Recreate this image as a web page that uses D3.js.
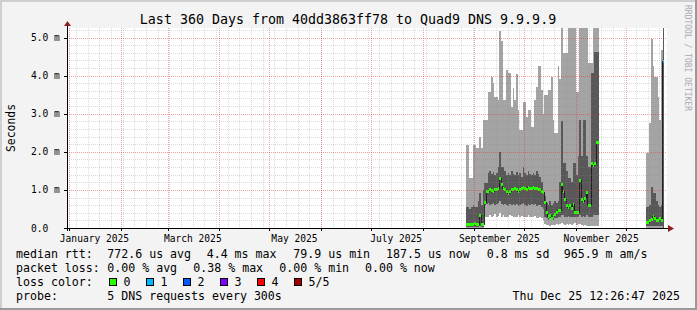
<!DOCTYPE html>
<html>
<head>
<meta charset="utf-8">
<script src="https://cdn.jsdelivr.net/npm/d3@7"></script>
<style>
  html, body { margin: 0; padding: 0; background: #f3f3f3; }
  svg { display: block; font-family: "DejaVu Sans Mono", monospace; }
</style>
</head>
<body>
<div id="chart"></div>
<script>
/**
 * CONSTANTS AND GLOBALS
 * */
const width = 697,
  height = 310,
  plot = { left: 67, right: 667, top: 28, bottom: 228 };

/**
 * DATA (all rtt values in ms)
 * */
const rangeStart = "2024-12-30T12:26:47Z";
const rangeEnd = "2025-12-25T12:26:47Z";
const yMax = 5.25;
const yTicks = [0, 1, 2, 3, 4, 5];
const yTickLabels = ["0.0", "1.0 m", "2.0 m", "3.0 m", "4.0 m", "5.0 m"];
const xLabelMonths = ["2025-01-01", "2025-03-01", "2025-05-01", "2025-07-01", "2025-09-01", "2025-11-01"];

// first block of daily values, starts Aug 27
const block1Start = "2025-08-27";
const max1 = [2.18, 2.18, 1.3, 1.3, 2.18, 2.18, 2.1, 2.1, 2.39, 2.1,
  2.84, 2.84, 2.84, 3.58, 3.58, 3.97, 3.8, 3.45, 3.45, 3.37,
  5.16, 4.9, 3.37, 3.37, 4.16, 4.08, 4.08, 3.18, 3.68, 3.37,
  4.03, 3.1, 2.58, 2.58, 3.3, 3.3, 2.92, 3.1, 3.1, 2.66,
  2.66, 3.37, 3.7, 4.24, 4.24, 3.63, 3.0, 3.5, 3.5, 3.63,
  3.63, 3.97, 2.84, 2.5, 2.5, 4.24, 3.9, 5.5, 4.6, 4.6,
  4.6, 5.5, 5.5, 5.5, 5.5, 5.5, 3.58, 3.58, 5.5, 5.5,
  5.5, 5.5, 5.5, 4.34, 4.34, 4.34, 5.5, 5.5, 5.5, 5.5];
const hi1 = [0.55, 0.55, 0.5, 0.55, 0.6, 0.55, 0.55, 0.7, 0.92, 0.6,
  1.0, 1.18, 1.18, 1.45, 1.5, 1.42, 1.48, 1.4, 1.45, 1.6,
  2.0, 1.6, 1.6, 1.5, 1.4, 1.45, 1.38, 1.5, 1.42, 1.4,
  1.48, 1.4, 1.45, 1.35, 1.6, 1.45, 1.4, 1.5, 1.42, 1.38,
  1.45, 1.4, 1.5, 1.42, 1.35, 1.2, 0.9, 0.85, 0.65, 0.6,
  0.7, 0.6, 0.65, 0.7, 0.65, 0.7, 1.2, 2.8, 1.7, 1.7,
  1.5, 1.3, 1.3, 1.2, 1.7, 1.7, 1.4, 1.9, 2.84, 1.9,
  2.84, 2.84, 1.9, 1.6, 1.6, 4.08, 4.08, 4.63, 4.63, 4.63];
const median1 = [0.1, 0.1, 0.08, 0.1, 0.1, 0.12, 0.1, 0.1, 0.32, 0.1,
  0.1, 0.68, 0.97, 0.96, 1.0, 0.98, 0.96, 1.0, 1.02, 1.04,
  1.31, 1.13, 1.04, 1.0, 0.96, 0.91, 0.96, 1.0, 1.02, 1.04,
  1.0, 0.96, 1.0, 1.04, 1.07, 1.04, 1.0, 1.07, 1.04, 1.04,
  1.07, 1.04, 1.04, 1.0, 1.0, 0.96, 0.92, 0.67, 0.4, 0.3,
  0.34, 0.25, 0.3, 0.35, 0.4, 0.47, 0.47, 1.13, 0.95, 0.75,
  0.6, 0.55, 0.6, 0.5, 0.62, 0.4, 0.42, 0.4, 1.26, 0.75,
  0.7, 0.78, 0.92, 0.58, 0.58, 1.7, 1.65, 1.7, 2.25, 2.25];
const lo1 = [0.03, 0.03, 0.03, 0.03, 0.03, 0.03, 0.03, 0.03, 0.05, 0.03,
  0.03, 0.6, 0.62, 0.65, 0.6, 0.62, 0.66, 0.6, 0.62, 0.65,
  0.7, 0.62, 0.6, 0.63, 0.6, 0.58, 0.62, 0.6, 0.64, 0.6,
  0.62, 0.58, 0.6, 0.62, 0.65, 0.6, 0.58, 0.62, 0.6, 0.63,
  0.6, 0.62, 0.58, 0.6, 0.6, 0.55, 0.5, 0.3, 0.25, 0.22,
  0.25, 0.2, 0.22, 0.25, 0.25, 0.28, 0.3, 0.35, 0.33, 0.3,
  0.3, 0.32, 0.3, 0.28, 0.3, 0.28, 0.3, 0.28, 0.35, 0.3,
  0.32, 0.3, 0.33, 0.3, 0.28, 0.3, 0.33, 0.35, 0.35, 0.33];
const min1 = [0, 0, 0, 0, 0, 0, 0, 0, 0, 0,
  0, 0.28, 0.3, 0.28, 0.35, 0.3, 0.32, 0.38, 0.3, 0.32,
  0.39, 0.3, 0.33, 0.3, 0.28, 0.3, 0.35, 0.32, 0.3, 0.28,
  0.3, 0.34, 0.3, 0.32, 0.3, 0.28, 0.3, 0.33, 0.3, 0.28,
  0.3, 0.32, 0.27, 0.25, 0.28, 0.25, 0.2, 0.1, 0.08, 0.08,
  0.06, 0.08, 0.07, 0.08, 0.1, 0.08, 0.1, 0.12, 0.1, 0.08,
  0.1, 0.08, 0.1, 0.08, 0.1, 0.12, 0.08, 0.1, 0.1, 0.08,
  0.06, 0.08, 0.05, 0.04, 0.05, 0.05, 0.06, 0.05, 0.05, 0.06];
const loss1 = new Array(80).fill(0);

// second block, starts Dec 13
const block2Start = "2025-12-13";
const max2 = [1.97, 1.97, 2.76, 4.95, 4.24, 3.97, 3.97, 3.45, 2.84, 4.68, 5.5];
const hi2 = [0.55, 0.55, 0.6, 1.08, 0.92, 0.92, 0.7, 0.6, 0.55, 0.6, 5.5];
const median2 = [0.15, 0.15, 0.2, 0.22, 0.3, 0.25, 0.2, 0.2, 0.25, 0.2, 4.37];
const lo2 = [0.05, 0.05, 0.05, 0.06, 0.06, 0.05, 0.05, 0.05, 0.05, 0.05, 0];
const min2 = [0, 0, 0, 0, 0, 0, 0, 0, 0, 0, 0];
const loss2 = [0, 0, 0, 0, 0, 0, 0, 0, 0, 0, 1];

// legend
const lossColors = ["#26ff00", "#00b8ff", "#0059ff", "#7e00ff", "#ff0000", "#a10000"];
const lossLabels = ["0", "1", "2", "3", "4", "5/5"];
const rttStats = ["772.6 us avg", "4.4 ms max", "79.9 us min", "187.5 us now", "0.8 ms sd", "965.9 m am/s"];
const lossStats = ["0.00 % avg", "0.38 % max", "0.00 % min", "0.00 % now"];
const titleText = "Last 360 Days from 40dd3863ff78 to Quad9 DNS 9.9.9.9";
const probeText = "5 DNS requests every 300s";
const stampText = "Thu Dec 25 12:26:47 2025";

/**
 * SCALES
 * */
const x = d3.scaleUtc()
  .domain([new Date(rangeStart), new Date(rangeEnd)])
  .range([plot.left, plot.right]);
const y = d3.scaleLinear()
  .domain([0, yMax])
  .range([plot.bottom, plot.top]);

// turn the arrays into step points (one extra point closes the last day)
function makeBlock(start, mn, lo, med, hi, mx, loss) {
  const d0 = new Date(start + "T00:00:00Z");
  return d3.range(mn.length + 1).map(i => {
    const k = Math.min(i, mn.length - 1);
    return { date: d3.utcDay.offset(d0, i), min: mn[k], lo: lo[k], median: med[k], hi: hi[k], max: mx[k], loss: loss[k], last: i === mn.length };
  });
}
const blocks = [
  makeBlock(block1Start, min1, lo1, median1, hi1, max1, loss1),
  makeBlock(block2Start, min2, lo2, median2, hi2, max2, loss2)
];

/**
 * DRAW
 * */
const svg = d3.select("#chart")
  .append("svg")
  .attr("width", width)
  .attr("height", height);

// frame
svg.append("rect").attr("width", width).attr("height", height).attr("fill", "#f3f3f3");
svg.append("path").attr("d", `M0,${height}V0H${width}`).attr("fill", "none").attr("stroke", "#cfcfcf").attr("stroke-width", 4);
svg.append("path").attr("d", `M${width},0V${height}H0`).attr("fill", "none").attr("stroke", "#9a9a9a").attr("stroke-width", 4);

svg.append("rect")
  .attr("x", plot.left).attr("y", plot.top)
  .attr("width", plot.right - plot.left).attr("height", plot.bottom - plot.top)
  .attr("fill", "white");

svg.append("clipPath").attr("id", "clip")
  .append("rect")
  .attr("x", plot.left).attr("y", plot.top)
  .attr("width", plot.right - plot.left).attr("height", plot.bottom - plot.top);

const g = svg.append("g").attr("clip-path", "url(#clip)").attr("shape-rendering", "crispEdges");

const outer = d3.area().curve(d3.curveStepAfter).x(d => x(d.date)).y0(d => y(d.min)).y1(d => y(d.max));
const inner = d3.area().curve(d3.curveStepAfter).x(d => x(d.date)).y0(d => y(d.lo)).y1(d => y(d.hi));

blocks.forEach(b => {
  g.append("path").attr("d", outer(b)).attr("fill", "#a4a4a4");
  g.append("path").attr("d", inner(b)).attr("fill", "#585858");
});

// median line + loss colour
const medLine = d3.line().curve(d3.curveStepAfter).x(d => x(d.date)).y(d => y(d.median));
blocks.forEach(b => {
  g.append("path").attr("d", medLine(b)).attr("fill", "none").attr("stroke", "#202020").attr("stroke-width", 1);
  g.selectAll(null)
    .data(b.filter(d => !d.last))
    .join("rect")
    .attr("x", d => x(d.date))
    .attr("width", d => x(d3.utcDay.offset(d.date, 1)) - x(d.date))
    .attr("y", d => y(d.median) - 1.5)
    .attr("height", 3)
    .attr("fill", d => lossColors[d.loss]);
});

// grid (drawn over the data, like rrdtool)
const grid = svg.append("g").attr("shape-rendering", "crispEdges").attr("stroke-dasharray", "1,1");
const minorY = d3.range(1, 27).map(k => k * 0.2).filter(v => v < yMax && Math.abs(v - Math.round(v)) > 0.01);
grid.selectAll(".hminor").data(minorY).join("line")
  .attr("x1", plot.left).attr("x2", plot.right)
  .attr("y1", d => Math.round(y(d)) + 0.5).attr("y2", d => Math.round(y(d)) + 0.5)
  .attr("stroke", "rgba(140,140,140,0.3)");
const weeks = d3.utcSunday.range(x.domain()[0], x.domain()[1]);
grid.selectAll(".vminor").data(weeks).join("line")
  .attr("x1", d => Math.round(x(d)) + 0.5).attr("x2", d => Math.round(x(d)) + 0.5)
  .attr("y1", plot.top).attr("y2", plot.bottom)
  .attr("stroke", "rgba(140,140,140,0.3)");
grid.selectAll(".hmajor").data(yTicks.slice(1)).join("line")
  .attr("x1", plot.left).attr("x2", plot.right)
  .attr("y1", d => Math.round(y(d)) + 0.5).attr("y2", d => Math.round(y(d)) + 0.5)
  .attr("stroke", "rgba(220,50,50,0.45)");
const months = d3.utcMonth.range(x.domain()[0], x.domain()[1]);
grid.selectAll(".vmajor").data(months).join("line")
  .attr("x1", d => Math.round(x(d)) + 0.5).attr("x2", d => Math.round(x(d)) + 0.5)
  .attr("y1", plot.top).attr("y2", plot.bottom)
  .attr("stroke", "rgba(220,50,50,0.45)");

// axes
const axes = svg.append("g").attr("shape-rendering", "crispEdges").attr("stroke", "black");
axes.append("line").attr("x1", plot.left + 0.5).attr("x2", plot.left + 0.5).attr("y1", plot.bottom + 3).attr("y2", plot.top - 4);
axes.append("line").attr("x1", plot.left - 3).attr("x2", plot.right + 3).attr("y1", plot.bottom + 0.5).attr("y2", plot.bottom + 0.5);
axes.selectAll(".yt").data(yTicks).join("line")
  .attr("x1", plot.left - 3).attr("x2", plot.left)
  .attr("y1", d => Math.round(y(d)) + 0.5).attr("y2", d => Math.round(y(d)) + 0.5);
axes.selectAll(".xt").data(months).join("line")
  .attr("x1", d => Math.round(x(d)) + 0.5).attr("x2", d => Math.round(x(d)) + 0.5)
  .attr("y1", plot.bottom).attr("y2", plot.bottom + 3);

svg.append("path")
  .attr("d", `M${plot.left - 3},${plot.top - 2}L${plot.left + 4},${plot.top - 2}L${plot.left + 0.5},${plot.top - 7}Z`)
  .attr("fill", "#8f1f1f");
svg.append("path")
  .attr("d", `M${plot.right + 1},${plot.bottom - 3}L${plot.right + 1},${plot.bottom + 4}L${plot.right + 7},${plot.bottom + 0.5}Z`)
  .attr("fill", "#8f1f1f");

// axis labels
svg.selectAll(".ylab").data(yTicks).join("text")
  .attr("x", 31)
  .attr("y", d => y(d) + 3.5)
  .attr("font-size", "9.6px")
  .text((d, i) => yTickLabels[i]);

const fmtMonth = d3.utcFormat("%B %Y");
svg.selectAll(".xlab").data(xLabelMonths.map(s => new Date(s + "T00:00:00Z"))).join("text")
  .attr("x", d => x(d3.utcDay.offset(d, 15)))
  .attr("y", 241.5)
  .attr("text-anchor", "middle")
  .attr("font-size", "9.6px")
  .text(d => fmtMonth(d));

// titles
svg.append("text").attr("x", 348).attr("y", 24).attr("text-anchor", "middle")
  .attr("font-size", "13.3px").text(titleText);
svg.append("text")
  .attr("transform", `translate(15,128) rotate(-90)`)
  .attr("text-anchor", "middle").attr("font-size", "11.4px").text("Seconds");
svg.append("text")
  .attr("transform", `translate(685,5) rotate(90)`)
  .attr("font-size", "8px").attr("fill", "#aaaaaa").text("RRDTOOL / TOBI OETIKER");

/**
 * LEGEND
 * */
const legend = svg.append("g").attr("font-size", "11.6px").attr("fill", "black");
const rows = [257.5, 271.5, 285.5, 299.5];
legend.append("text").attr("x", 16).attr("y", rows[0]).text("median rtt:");
legend.append("text").attr("x", 16).attr("y", rows[1]).text("packet loss:");
legend.append("text").attr("x", 16).attr("y", rows[2]).text("loss color:");
legend.append("text").attr("x", 16).attr("y", rows[3]).text("probe:");

const rttX = [107.3, 206.7, 293.3, 386, 486.7, 563.7];
legend.selectAll(".rtt").data(rttStats).join("text")
  .attr("x", (d, i) => rttX[i]).attr("y", rows[0]).text(d => d);
const lossX = [107.3, 193.3, 279.3, 365];
legend.selectAll(".loss").data(lossStats).join("text")
  .attr("x", (d, i) => lossX[i]).attr("y", rows[1]).text(d => d);

const swatch = legend.selectAll(".sw").data(lossColors).join("g")
  .attr("transform", (d, i) => `translate(${108.5 + i * 37},0)`);
swatch.append("rect")
  .attr("x", 0.5).attr("y", 278.5).attr("width", 7).attr("height", 7)
  .attr("fill", d => d).attr("stroke", "black").attr("shape-rendering", "crispEdges");
swatch.append("text").attr("x", 15).attr("y", rows[2]).text((d, i) => lossLabels[i]);

legend.append("text").attr("x", 107.3).attr("y", rows[3]).text(probeText);
legend.append("text").attr("x", 680).attr("y", rows[3]).attr("text-anchor", "end").text(stampText);
</script>
</body>
</html>
